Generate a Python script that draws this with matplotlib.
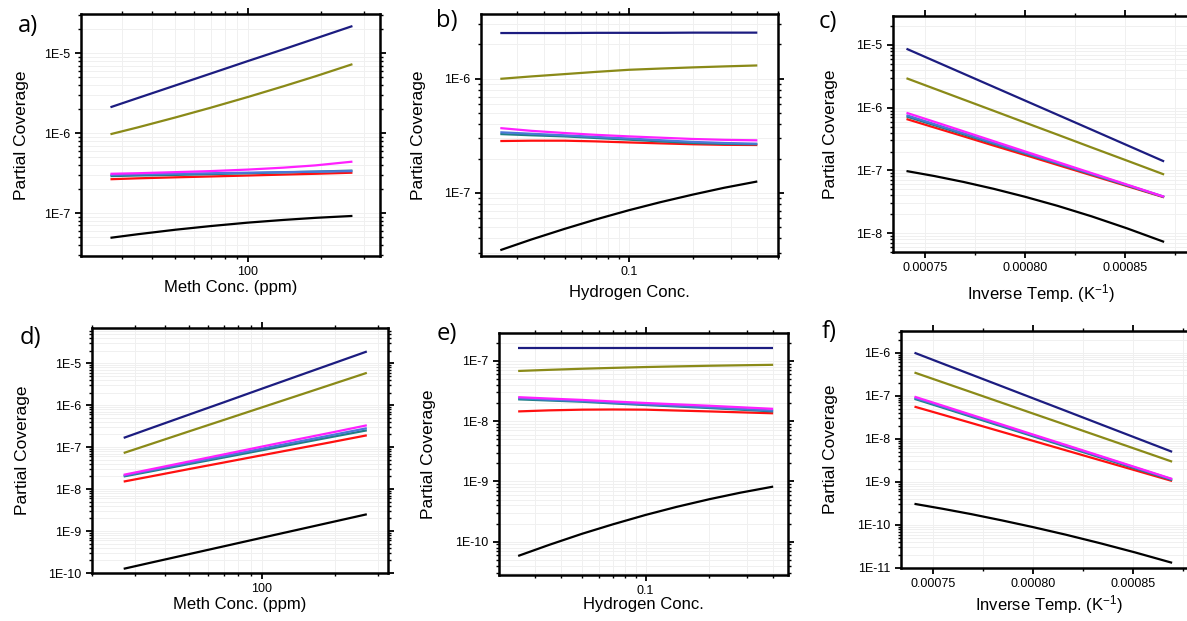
#==== partial coverage vs methane conc., hydrogen conc. and inverse temperature ====#
import matplotlib
matplotlib.use('Agg')
import matplotlib.pyplot as plt
import matplotlib.ticker as mticker
import matplotlib.transforms as mtransforms
import numpy as np

plt.rcParams['font.family'] = ['Liberation Sans', 'DejaVu Sans']
plt.rcParams['mathtext.default'] = 'regular'

#------------ x values -------------
meth = [27, 35, 50, 70, 100, 140, 190, 270]                      # ppm
hyd = [0.025, 0.035, 0.05, 0.07, 0.1, 0.14, 0.2, 0.28, 0.4]
temps = [1350, 1325, 1300, 1275, 1250, 1225, 1200, 1175, 1150]   # K
inv_t = [1.0/t for t in temps]

#------------ panel a) -------------
a_navy = [2.11e-6, 2.75e-6, 3.95e-6, 5.56e-6, 8.0e-6, 1.12e-5, 1.53e-5, 2.19e-5]
a_olive = [9.7e-7, 1.18e-6, 1.57e-6, 2.08e-6, 2.84e-6, 3.86e-6, 5.15e-6, 7.3e-6]
a_magenta = [3.1e-7, 3.15e-7, 3.25e-7, 3.35e-7, 3.5e-7, 3.7e-7, 3.95e-7, 4.4e-7]
a_ltblue = [3.0e-7, 3.05e-7, 3.1e-7, 3.15e-7, 3.2e-7, 3.25e-7, 3.3e-7, 3.35e-7]
a_teal = [2.9e-7, 2.95e-7, 3.0e-7, 3.07e-7, 3.15e-7, 3.23e-7, 3.3e-7, 3.4e-7]
a_red = [2.65e-7, 2.72e-7, 2.8e-7, 2.87e-7, 2.95e-7, 3.03e-7, 3.1e-7, 3.2e-7]
a_black = [4.9e-8, 5.43e-8, 6.18e-8, 6.87e-8, 7.59e-8, 8.2e-8, 8.71e-8, 9.2e-8]

#------------ panel b) -------------
b_navy = [2.52e-6, 2.52e-6, 2.52e-6, 2.53e-6, 2.53e-6, 2.53e-6, 2.54e-6, 2.54e-6, 2.54e-6]
b_olive = [1.0e-6, 1.05e-6, 1.1e-6, 1.15e-6, 1.2e-6, 1.23e-6, 1.26e-6, 1.285e-6, 1.31e-6]
b_magenta = [3.7e-7, 3.5e-7, 3.35e-7, 3.23e-7, 3.13e-7, 3.05e-7, 2.97e-7, 2.92e-7, 2.89e-7]
b_ltblue = [3.4e-7, 3.3e-7, 3.2e-7, 3.1e-7, 3.0e-7, 2.9e-7, 2.8e-7, 2.74e-7, 2.7e-7]
b_teal = [3.28e-7, 3.2e-7, 3.13e-7, 3.03e-7, 2.93e-7, 2.83e-7, 2.74e-7, 2.69e-7, 2.67e-7]
b_red = [2.85e-7, 2.87e-7, 2.87e-7, 2.83e-7, 2.77e-7, 2.72e-7, 2.67e-7, 2.64e-7, 2.63e-7]
b_black = [3.15e-8, 3.91e-8, 4.84e-8, 5.85e-8, 7.05e-8, 8.28e-8, 9.68e-8, 1.11e-7, 1.26e-7]

#------------ panel c) -------------
c_navy = [8.71e-6, 5.56e-6, 3.49e-6, 2.15e-6, 1.3e-6, 7.7e-7, 4.46e-7, 2.52e-7, 1.39e-7]
c_olive = [2.95e-6, 2.01e-6, 1.35e-6, 8.93e-7, 5.8e-7, 3.71e-7, 2.32e-7, 1.43e-7, 8.6e-8]
c_magenta = [8.3e-7, 5.96e-7, 4.21e-7, 2.93e-7, 2.01e-7, 1.36e-7, 9.06e-8, 5.93e-8, 3.8e-8]
c_ltblue = [7.6e-7, 5.48e-7, 3.92e-7, 2.75e-7, 1.91e-7, 1.31e-7, 8.83e-8, 5.85e-8, 3.8e-8]
c_teal = [7.25e-7, 5.26e-7, 3.77e-7, 2.66e-7, 1.86e-7, 1.28e-7, 8.65e-8, 5.75e-8, 3.76e-8]
c_red = [6.6e-7, 4.83e-7, 3.5e-7, 2.49e-7, 1.76e-7, 1.22e-7, 8.35e-8, 5.62e-8, 3.72e-8]
c_black = [9.77e-8, 8.13e-8, 6.55e-8, 5.09e-8, 3.8e-8, 2.72e-8, 1.85e-8, 1.19e-8, 7.24e-9]

#------------ panel d) -------------
d_navy = [1.66e-7, 2.84e-7, 5.92e-7, 1.18e-6, 2.47e-6, 4.93e-6, 9.23e-6, 1.9e-5]
d_olive = [7.24e-8, 1.19e-7, 2.36e-7, 4.48e-7, 8.85e-7, 1.68e-6, 3.01e-6, 5.89e-6]
d_magenta = [2.19e-8, 2.97e-8, 4.53e-8, 6.74e-8, 1.03e-7, 1.53e-7, 2.18e-7, 3.31e-7]
d_ltblue = [2.09e-8, 2.81e-8, 4.2e-8, 6.14e-8, 9.18e-8, 1.34e-7, 1.89e-7, 2.82e-7]
d_teal = [2.0e-8, 2.65e-8, 3.94e-8, 5.69e-8, 8.43e-8, 1.22e-7, 1.71e-7, 2.51e-7]
d_red = [1.51e-8, 2.01e-8, 2.99e-8, 4.32e-8, 6.4e-8, 9.25e-8, 1.29e-7, 1.91e-7]
d_black = [1.26e-10, 1.77e-10, 2.81e-10, 4.35e-10, 6.92e-10, 1.07e-9, 1.59e-9, 2.51e-9]

#------------ panel e) -------------
e_navy = [1.65e-7, 1.65e-7, 1.65e-7, 1.65e-7, 1.65e-7, 1.65e-7, 1.65e-7, 1.65e-7, 1.65e-7]
e_olive = [6.8e-8, 7.1e-8, 7.4e-8, 7.65e-8, 7.9e-8, 8.1e-8, 8.3e-8, 8.45e-8, 8.6e-8]
e_magenta = [2.5e-8, 2.37e-8, 2.25e-8, 2.12e-8, 2.0e-8, 1.9e-8, 1.8e-8, 1.7e-8, 1.6e-8]
e_ltblue = [2.4e-8, 2.27e-8, 2.15e-8, 2.02e-8, 1.9e-8, 1.8e-8, 1.7e-8, 1.6e-8, 1.5e-8]
e_teal = [2.3e-8, 2.2e-8, 2.1e-8, 1.97e-8, 1.85e-8, 1.75e-8, 1.65e-8, 1.55e-8, 1.45e-8]
e_red = [1.45e-8, 1.51e-8, 1.55e-8, 1.56e-8, 1.55e-8, 1.5e-8, 1.45e-8, 1.4e-8, 1.35e-8]
e_black = [5.8e-11, 8.85e-11, 1.35e-10, 1.94e-10, 2.78e-10, 3.78e-10, 5.07e-10, 6.5e-10, 8.2e-10]

#------------ panel f) -------------
f_navy = [1.0e-6, 5.62e-7, 3.1e-7, 1.67e-7, 8.75e-8, 4.48e-8, 2.22e-8, 1.07e-8, 5.0e-9]
f_olive = [3.47e-7, 2.07e-7, 1.21e-7, 6.92e-8, 3.87e-8, 2.12e-8, 1.13e-8, 5.86e-9, 2.95e-9]
f_magenta = [9.55e-8, 5.93e-8, 3.61e-8, 2.16e-8, 1.26e-8, 7.24e-9, 4.05e-9, 2.21e-9, 1.17e-9]
f_ltblue = [9.0e-8, 5.61e-8, 3.43e-8, 2.06e-8, 1.21e-8, 6.97e-9, 3.92e-9, 2.15e-9, 1.15e-9]
f_teal = [8.5e-8, 5.31e-8, 3.25e-8, 1.95e-8, 1.15e-8, 6.62e-9, 3.73e-9, 2.05e-9, 1.1e-9]
f_red = [5.6e-8, 3.65e-8, 2.33e-8, 1.46e-8, 9.0e-9, 5.43e-9, 3.21e-9, 1.86e-9, 1.05e-9]
f_black = [3.09e-10, 2.38e-10, 1.78e-10, 1.28e-10, 8.91e-11, 5.95e-11, 3.79e-11, 2.3e-11, 1.32e-11]

panels = [
    ('a)', meth, [a_black, a_red, a_teal, a_ltblue, a_magenta, a_olive, a_navy], 'Meth Conc. (ppm)'),
    ('b)', hyd, [b_black, b_red, b_teal, b_ltblue, b_magenta, b_olive, b_navy], 'Hydrogen Conc.'),
    ('c)', inv_t, [c_black, c_red, c_teal, c_ltblue, c_magenta, c_olive, c_navy], 'Inverse Temp. (K$^{-1}$)'),
    ('d)', meth, [d_black, d_red, d_teal, d_ltblue, d_magenta, d_olive, d_navy], 'Meth Conc. (ppm)'),
    ('e)', hyd, [e_black, e_red, e_teal, e_ltblue, e_magenta, e_olive, e_navy], 'Hydrogen Conc.'),
    ('f)', inv_t, [f_black, f_red, f_teal, f_ltblue, f_magenta, f_olive, f_navy], 'Inverse Temp. (K$^{-1}$)'),
]
colors = ['black', '#ff1010', '#1f7f86', '#4a78d8', '#ff20ff', '#8a8a18', '#1c1c80']

#------------ layout in pixels: left, right, top, bottom -------------
W, H = 1187, 621
boxes = [(81, 380, 14, 256), (481, 778, 14, 256), (893, 1189, 16, 252),
         (92, 388, 328, 573), (499, 788, 333, 575), (901, 1197, 331, 568)]
xlims = [(20.4, 351), (0.0203, 0.5), (0.000734, 0.000882),
         (20, 330), (0.0203, 0.47), (0.000734, 0.000882)]
ylims = [(2.9e-8, 3.1e-5), (2.8e-8, 3.7e-6), (5e-9, 2.9e-5),
         (1e-10, 6.9e-5), (2.8e-11, 2.9e-7), (1e-11, 3.2e-6)]
letter_pos = [(28, 26), (447, 21), (828, 22), (30, 338), (447, 334), (829, 332)]
ylab_x = [22, 418, 830, 23, 428, 830]
xlab_y = [287, 292, 294, 604, 605, 605]

fig = plt.figure(figsize=(W/100, H/100), dpi=100)

def sci_fmt(v, pos):
    e = int(round(np.log10(v)))
    return '1E%d' % e

for k, (lab, xv, ys, xlabel) in enumerate(panels):
    l, r, t, b = boxes[k]
    ax = fig.add_axes([l/W, 1 - b/H, (r - l)/W, (b - t)/H])
    for y, c in zip(ys, colors):
        ax.plot(xv, y, color=c, lw=1.6, solid_capstyle='butt')
    ax.set_yscale('log')
    if k % 3 != 2:
        ax.set_xscale('log')
        ax.xaxis.set_minor_locator(mticker.LogLocator(base=10, subs=np.arange(2, 10)))
        ax.xaxis.set_minor_formatter(mticker.NullFormatter())
        ax.xaxis.set_major_formatter(mticker.FuncFormatter(lambda v, p: '%g' % v))
    else:
        ax.xaxis.set_major_locator(mticker.MultipleLocator(0.00005))
        ax.xaxis.set_minor_locator(mticker.MultipleLocator(0.000025))
        ax.xaxis.set_major_formatter(mticker.FormatStrFormatter('%.5f'))
    ax.yaxis.set_major_locator(mticker.LogLocator(base=10, numticks=20))
    ax.yaxis.set_minor_locator(mticker.LogLocator(base=10, subs=np.arange(2, 10), numticks=20))
    ax.yaxis.set_major_formatter(mticker.FuncFormatter(sci_fmt))
    ax.yaxis.set_minor_formatter(mticker.NullFormatter())
    ax.set_xlim(*xlims[k])
    ax.set_ylim(*ylims[k])

    #--------- frame, ticks and grid ----------
    for s in ax.spines.values():
        s.set_linewidth(1.8)
    ax.tick_params(which='both', direction='out', top=True, right=True,
                   labelsize=9, pad=3, width=1.3)
    ax.tick_params(which='major', length=4.5)
    ax.tick_params(which='minor', length=2.5, width=1.0)
    ax.grid(which='both', color='#f0f0f0', lw=0.7)
    ax.set_axisbelow(True)

    #--------- labels ----------
    ax.set_ylabel('Partial Coverage', fontsize=12.5, va='center')
    ax.yaxis.set_label_coords(ylab_x[k]/W, 0.5,
        transform=mtransforms.blended_transform_factory(fig.transFigure, ax.transAxes))
    ax.set_xlabel(xlabel, fontsize=12, va='center')
    ax.xaxis.set_label_coords(0.5, 1 - xlab_y[k]/H,
        transform=mtransforms.blended_transform_factory(ax.transAxes, fig.transFigure))
    fig.text(letter_pos[k][0]/W, 1 - letter_pos[k][1]/H, lab, fontsize=17,
             family='Open Sans', ha='center', va='center')

fig.savefig('out.png', dpi=100)
